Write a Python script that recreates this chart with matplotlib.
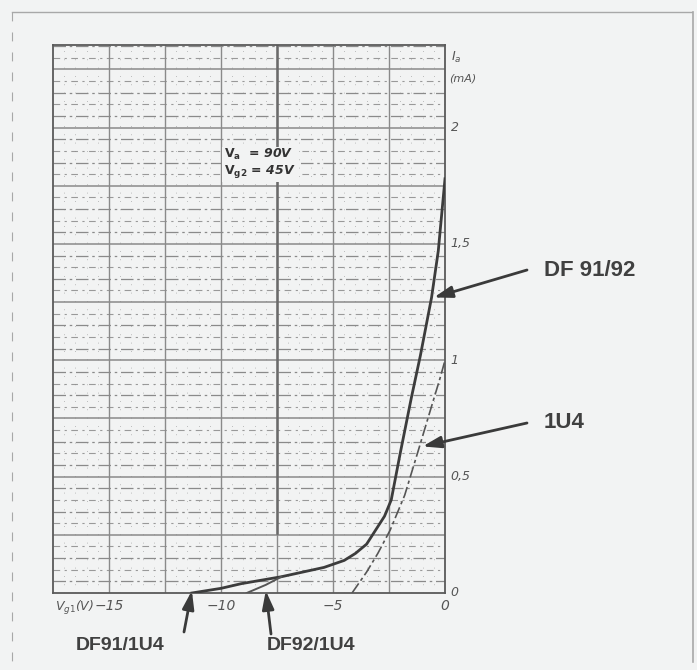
#!/usr/bin/env python
"""
Anode current vs grid-1 voltage for DF91/DF92 and 1U4 (scanned datasheet look)
"""
import numpy as np
import matplotlib.pyplot as plt
from matplotlib.lines import Line2D

# --- data ---
df91_vg1 = [-11.3, -10.0, -9.1, -7.3, -5.4, -4.5, -4.0, -3.5, -3.1, -2.7, -2.4,
            -2.0, -1.5, -1.1, -0.6, -0.3, 0.0]
df91_ia = [0.0, 0.02, 0.04, 0.07, 0.11, 0.14, 0.17, 0.21, 0.27, 0.33, 0.40,
           0.60, 0.84, 1.02, 1.27, 1.47, 1.78]

df92_vg1 = [-8.85, -8.0, -7.3]
df92_ia = [0.0, 0.035, 0.07]

u14_vg1 = [-4.15, -3.5, -3.0, -2.45, -1.8, -1.2, -0.67, -0.2, 0.0]
u14_ia = [0.0, 0.09, 0.17, 0.27, 0.42, 0.61, 0.78, 0.93, 1.0]

ytick_vals = [0, 0.5, 1, 1.5, 2]
ytick_labels = ['0', '0,5', '1', '1,5', '2']
xtick_vals = [-15, -10, -5, 0]
xtick_labels = ['\u221215', '\u221210', '\u22125', '0']

BG = '#f2f3f3'
GRID = '#8a8a8a'

fig = plt.figure(figsize=(6.97, 6.70), dpi=100, facecolor=BG)
ax = fig.add_axes([53 / 697, 1 - 593 / 670, (445 - 53) / 697, (593 - 45) / 670])
ax.set_facecolor(BG)
ax.set_xlim(-17.5, 0)
ax.set_ylim(0, 2.355)

# grid: fine horizontal lines, coarse vertical lines
for k, y in enumerate(np.arange(0.05, 2.36, 0.05)):
    if k % 5 == 4:
        ax.axhline(y, color=GRID, lw=1.1, zorder=1)
    elif k % 2 == 0:
        ax.axhline(y, color=GRID, lw=0.9, ls=(0, (10, 3, 2, 3)), zorder=1)
    else:
        ax.axhline(y, color=GRID, lw=0.8, ls=(0, (6, 4, 2, 4)), alpha=0.85, zorder=1)
for x in np.arange(-15, 0, 2.5):
    ax.axvline(x, color=GRID, lw=1.0, zorder=1)
for x in np.arange(-17.0, 0, 0.5):
    if abs(x / 2.5 - round(x / 2.5)) > 1e-6:
        ax.axvline(x, color=GRID, lw=0.6, ls=(0, (1, 9)), alpha=0.7, zorder=1)
ax.axvline(-7.5, ymin=0.11, ymax=1, color='#6a6a6a', lw=1.8, zorder=1)

for side in ['left', 'right', 'top', 'bottom']:
    ax.spines[side].set_color('#5a5a5a')
    ax.spines[side].set_linewidth(1.3)
ax.set_xticks([])
ax.set_yticks([])

# curves
ax.plot(df91_vg1, df91_ia, color='#3c3c3c', lw=2.0, zorder=4)
ax.plot(df92_vg1, df92_ia, color='#555555', lw=1.4, zorder=4)
ax.plot(u14_vg1, u14_ia, color='#555555', lw=1.2, ls=(0, (7, 2, 2, 2)), zorder=4)

# condition text
ax.text(-9.85, 1.845, r'$\mathbf{V_a}$  = 90V' + '\n' + r'$\mathbf{V_{g2}}$ = 45V',
        fontsize=9, color='#333333', style='italic', fontweight='bold',
        ha='left', va='center', linespacing=1.05, zorder=5,
        bbox=dict(boxstyle='square,pad=0.2', fc=BG, ec='none'))

# hand-written style tick labels
for v, lab in zip(ytick_vals, ytick_labels):
    ax.text(0.25, v, lab, fontsize=9, color='#555555', style='italic',
            ha='left', va='center', clip_on=False)
for v, lab in zip(xtick_vals, xtick_labels):
    ax.text(v, -0.025, lab, fontsize=10, color='#555555', style='italic',
            ha='center', va='top', clip_on=False)
ax.text(-17.4, -0.025, '$V_{g1}$(V)', fontsize=9, color='#555555', style='italic',
        ha='left', va='top', clip_on=False)
ax.text(0.25, 2.30, '$I_a$', fontsize=9, color='#555555', ha='left', va='center',
        clip_on=False)
ax.text(0.2, 2.21, '(mA)', fontsize=8, color='#555555', style='italic',
        ha='left', va='center', clip_on=False)

# arrows with labels
arrow = dict(arrowstyle='-|>,head_length=1.1,head_width=0.35', lw=2.0,
             color='#3a3a3a', shrinkA=0, shrinkB=0)


def fpix(px, py):
    return (px / 697, 1 - py / 670)


ax.annotate('', xy=(-0.5, 1.27), xytext=fpix(527, 270),
            textcoords='figure fraction', arrowprops=arrow, zorder=6)
ax.annotate('', xy=(-1.0, 0.63), xytext=fpix(527, 423),
            textcoords='figure fraction', arrowprops=arrow, zorder=6)
ax.annotate('', xy=(-11.3, 0.01), xytext=fpix(184, 632),
            textcoords='figure fraction', arrowprops=arrow, zorder=6,
            annotation_clip=False)
ax.annotate('', xy=(-8.0, 0.01), xytext=fpix(271, 634),
            textcoords='figure fraction', arrowprops=arrow, zorder=6,
            annotation_clip=False)

lab_kw = dict(fontweight='bold', color='#404040', family='Liberation Sans', va='center')
fig.text(*fpix(544, 270), 'DF 91/92', ha='left', fontsize=16, **lab_kw)
fig.text(*fpix(544, 423), '1U4', ha='left', fontsize=16, **lab_kw)
fig.text(*fpix(120, 645), 'DF91/1U4', ha='center', fontsize=14, **lab_kw)
fig.text(*fpix(311, 645), 'DF92/1U4', ha='center', fontsize=14, **lab_kw)

# outer frame of the scan
frame = '#a8a8a8'
fig.add_artist(Line2D([12 / 697, 692 / 697], [1 - 12 / 670] * 2, color=frame, lw=1.0))
fig.add_artist(Line2D([693 / 697] * 2, [1 - 12 / 670, 1 - 662 / 670], color=frame, lw=1.2))
fig.add_artist(Line2D([12 / 697] * 2, [1 - 12 / 670, 1 - 662 / 670], color=frame, lw=0.8,
                      ls=(0, (8, 10))))

fig.savefig('out.png', dpi=100, facecolor=BG)
